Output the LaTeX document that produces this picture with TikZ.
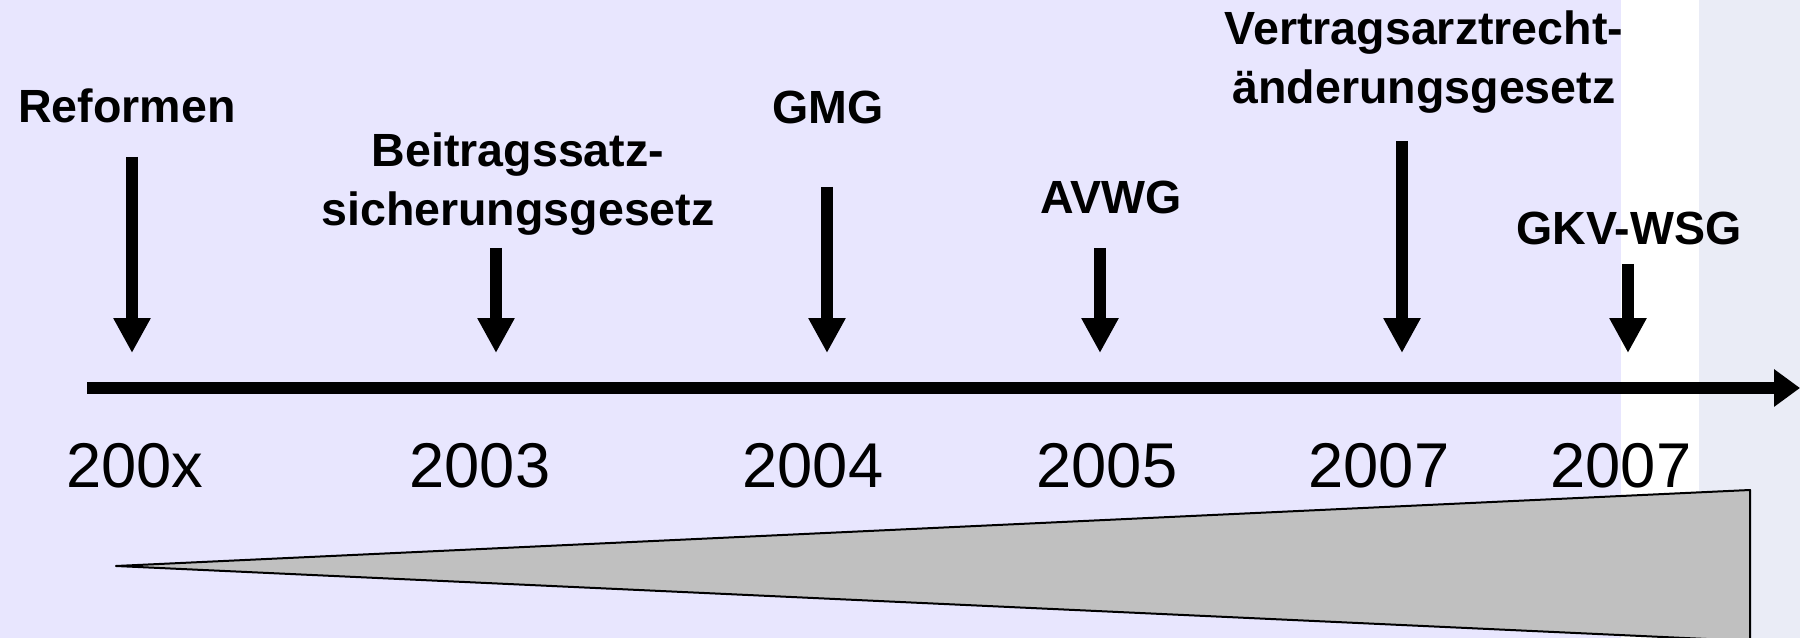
\documentclass[tikz,border=0pt]{standalone}
\usepackage{fontspec}
\setmainfont{Liberation Sans}
\usetikzlibrary{arrows.meta}

\definecolor{lavender}{RGB}{232,230,254}
\definecolor{paleblue}{RGB}{234,236,246}
\definecolor{wedgegray}{RGB}{192,192,192}

\tikzset{
    law/.style={font=\fontsize{26.5}{34}\selectfont\bfseries, align=center, anchor=base, inner sep=0pt},
    year/.style={font=\fontsize{36}{42}\selectfont, anchor=base, inner sep=0pt},
    hit/.style={line width=0.24cm, -{Triangle[length=0.7cm, width=0.7cm]}},
    axis/.style={line width=0.24cm, -{Triangle[length=0.52cm, width=0.72cm]}},
    wedge/.style={fill=wedgegray, draw=black, line width=0.04cm, line join=round}
}

\begin{document}
\begin{tikzpicture}[x=0.02cm, y=-0.02cm]

\useasboundingbox (0,0) rectangle (1800,638);
\fill [lavender] (0,0) rectangle (1621,638);
\fill [white] (1621,0) rectangle (1699,638);
\fill [paleblue] (1699,0) rectangle (1800,638);

\coordinate (start) at (87,388);
\coordinate (end) at (1800,388);
\draw [axis] (start) -- (end);

\foreach \i/\x/\y in {1/132/157, 2/496/248, 3/827/187, 4/1100/248, 5/1402/141, 6/1628/264}
{
    \coordinate (top\i) at (\x,\y);
    \coordinate (tip\i) at (\x,353);
}

\foreach \i in {1,...,6}
    \draw [hit] (top\i) -- (tip\i);

% two-line labels sit on the baseline of their last line
\node [law] (reformen) at (127,123) {Reformen};
\node [law] (bssg) at (518,226) {Beitragssatz-\\sicherungsgesetz};
\node [law] (gmg) at (828,124) {GMG};
\node [law] (avwg) at (1111,214) {AVWG};
\node [law] (vaendg) at (1424,104) {Vertragsarztrecht-\\änderungsgesetz};
\node [law] (gkvwsg) at (1629,245) {GKV-WSG};

\foreach \n/\x/\t in {y0/135/200x, y3/480/2003, y4/813/2004, y5/1107/2005, y7/1379/2007, y8/1621/2007}
    \node [year] (\n) at (\x,488) {\t};

\coordinate (w1) at (116,566);
\coordinate (w2) at (1750,490);
\coordinate (w3) at (1750,641);
\filldraw [wedge] (w1) -- (w2) -- (w3) -- cycle;

\end{tikzpicture}
\end{document}
